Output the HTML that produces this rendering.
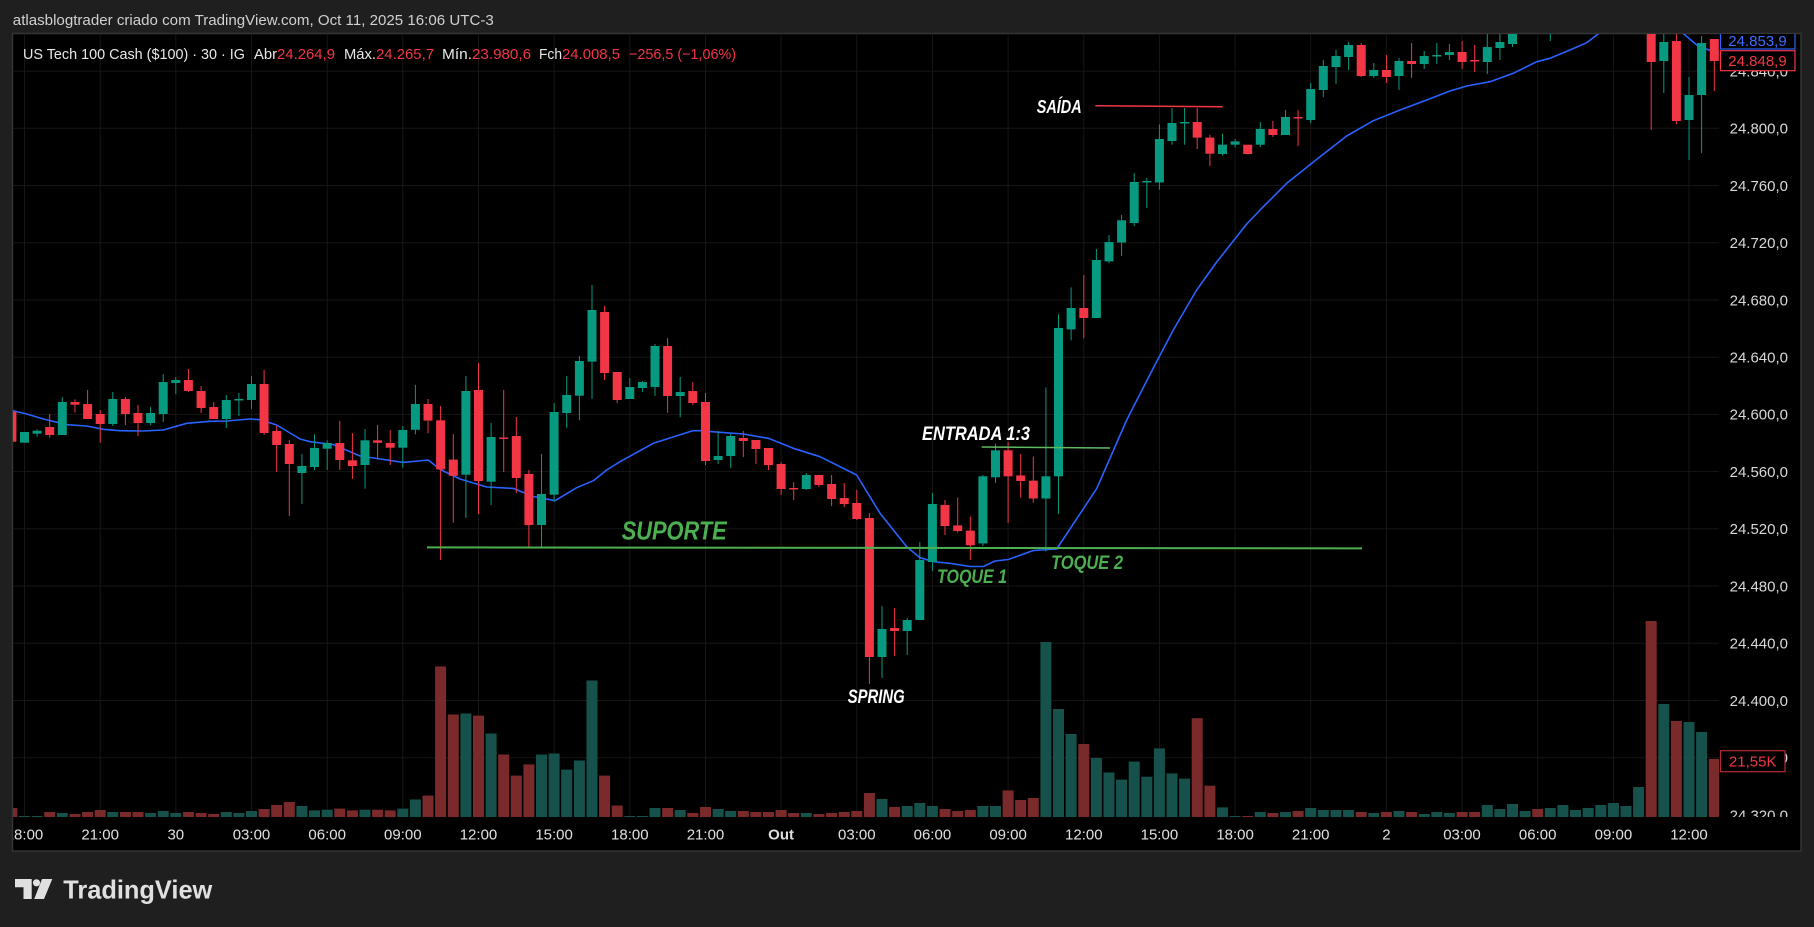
<!DOCTYPE html>
<html><head><meta charset="utf-8"><style>
html,body{margin:0;padding:0;background:#1f1f1f;}
svg{display:block;}
text{font-family:"Liberation Sans",Arial,sans-serif;}
</style></head><body>
<svg width="1814" height="927" viewBox="0 0 1814 927" xmlns="http://www.w3.org/2000/svg">
<defs>
<clipPath id="pane"><rect x="13" y="34" width="1706" height="783"/></clipPath>
<clipPath id="chart"><rect x="13" y="34" width="1788" height="817"/></clipPath>
</defs>
<rect x="0" y="0" width="1814" height="927" fill="#1f1f1f"/>
<text x="12.8" y="25" font-size="15" fill="#d0d0d0" textLength="481" lengthAdjust="spacingAndGlyphs">atlasblogtrader criado com TradingView.com, Oct 11, 2025 16:06 UTC-3</text>
<rect x="12.5" y="33.5" width="1788.5" height="817.5" fill="#000" stroke="#343434" stroke-width="1.5"/>

<g stroke="#161616" stroke-width="1">
<line x1="13" x2="1719" y1="71.1" y2="71.1"/><line x1="13" x2="1719" y1="128.3" y2="128.3"/><line x1="13" x2="1719" y1="185.5" y2="185.5"/><line x1="13" x2="1719" y1="242.7" y2="242.7"/><line x1="13" x2="1719" y1="300" y2="300"/><line x1="13" x2="1719" y1="357.2" y2="357.2"/><line x1="13" x2="1719" y1="414.4" y2="414.4"/><line x1="13" x2="1719" y1="471.6" y2="471.6"/><line x1="13" x2="1719" y1="528.8" y2="528.8"/><line x1="13" x2="1719" y1="586" y2="586"/><line x1="13" x2="1719" y1="643.3" y2="643.3"/><line x1="13" x2="1719" y1="700.5" y2="700.5"/><line x1="13" x2="1719" y1="757.7" y2="757.7"/>
<line y1="34" y2="817" x1="24.5" x2="24.5"/><line y1="34" y2="817" x1="100.2" x2="100.2"/><line y1="34" y2="817" x1="175.8" x2="175.8"/><line y1="34" y2="817" x1="251.5" x2="251.5"/><line y1="34" y2="817" x1="327.2" x2="327.2"/><line y1="34" y2="817" x1="402.8" x2="402.8"/><line y1="34" y2="817" x1="478.5" x2="478.5"/><line y1="34" y2="817" x1="554.1" x2="554.1"/><line y1="34" y2="817" x1="629.8" x2="629.8"/><line y1="34" y2="817" x1="705.5" x2="705.5"/><line y1="34" y2="817" x1="781.1" x2="781.1"/><line y1="34" y2="817" x1="856.8" x2="856.8"/><line y1="34" y2="817" x1="932.4" x2="932.4"/><line y1="34" y2="817" x1="1008.1" x2="1008.1"/><line y1="34" y2="817" x1="1083.8" x2="1083.8"/><line y1="34" y2="817" x1="1159.4" x2="1159.4"/><line y1="34" y2="817" x1="1235.1" x2="1235.1"/><line y1="34" y2="817" x1="1310.7" x2="1310.7"/><line y1="34" y2="817" x1="1386.4" x2="1386.4"/><line y1="34" y2="817" x1="1462" x2="1462"/><line y1="34" y2="817" x1="1537.7" x2="1537.7"/><line y1="34" y2="817" x1="1613.4" x2="1613.4"/><line y1="34" y2="817" x1="1689" x2="1689"/>
</g>

<g clip-path="url(#pane)">
<!-- volume green -->
<g fill="#16524b">
<rect x="19" y="816" width="11" height="1"/><rect x="31.6" y="816" width="11" height="1"/><rect x="56.8" y="813" width="11" height="4"/><rect x="107.3" y="812" width="11" height="5"/><rect x="145.1" y="813" width="11" height="4"/><rect x="157.7" y="811" width="11" height="6"/><rect x="170.3" y="813" width="11" height="4"/><rect x="220.8" y="812" width="11" height="5"/><rect x="233.4" y="813" width="11" height="4"/><rect x="246" y="811" width="11" height="6"/><rect x="296.4" y="806" width="11" height="11"/><rect x="309" y="810.4" width="11" height="6.6"/><rect x="321.7" y="809.7" width="11" height="7.3"/><rect x="359.5" y="809.7" width="11" height="7.3"/><rect x="397.3" y="808.6" width="11" height="8.4"/><rect x="409.9" y="799.5" width="11" height="17.5"/><rect x="460.4" y="713.5" width="11" height="103.5"/><rect x="485.6" y="733.5" width="11" height="83.5"/><rect x="536" y="754.5" width="11" height="62.5"/><rect x="548.6" y="753.5" width="11" height="63.5"/><rect x="561.2" y="769.6" width="11" height="47.4"/><rect x="573.9" y="760.5" width="11" height="56.5"/><rect x="586.5" y="680.5" width="11" height="136.5"/><rect x="624.3" y="816" width="11" height="1"/><rect x="636.9" y="816" width="11" height="1"/><rect x="649.5" y="808" width="11" height="9"/><rect x="674.7" y="810" width="11" height="7"/><rect x="712.6" y="809" width="11" height="8"/><rect x="725.2" y="811" width="11" height="6"/><rect x="800.8" y="813" width="11" height="4"/><rect x="876.5" y="799" width="11" height="18"/><rect x="901.7" y="806" width="11" height="11"/><rect x="914.3" y="803" width="11" height="14"/><rect x="926.9" y="806" width="11" height="11"/><rect x="977.4" y="806" width="11" height="11"/><rect x="990" y="806" width="11" height="11"/><rect x="1040.4" y="642" width="11" height="175"/><rect x="1053" y="709" width="11" height="108"/><rect x="1065.6" y="734" width="11" height="83"/><rect x="1090.9" y="758" width="11" height="59"/><rect x="1103.5" y="772.5" width="11" height="44.5"/><rect x="1116.1" y="779.6" width="11" height="37.4"/><rect x="1128.7" y="761.6" width="11" height="55.4"/><rect x="1141.3" y="776.7" width="11" height="40.3"/><rect x="1153.9" y="748.4" width="11" height="68.6"/><rect x="1166.5" y="773.4" width="11" height="43.6"/><rect x="1179.1" y="778.6" width="11" height="38.4"/><rect x="1217" y="807.4" width="11" height="9.6"/><rect x="1229.6" y="816" width="11" height="1"/><rect x="1254.8" y="812" width="11" height="5"/><rect x="1280" y="812" width="11" height="5"/><rect x="1305.2" y="808" width="11" height="9"/><rect x="1317.8" y="810" width="11" height="7"/><rect x="1330.5" y="810" width="11" height="7"/><rect x="1343.1" y="810" width="11" height="7"/><rect x="1368.3" y="813" width="11" height="4"/><rect x="1393.5" y="811" width="11" height="6"/><rect x="1418.7" y="814" width="11" height="3"/><rect x="1431.3" y="812" width="11" height="5"/><rect x="1443.9" y="813" width="11" height="4"/><rect x="1481.8" y="805" width="11" height="12"/><rect x="1494.4" y="809" width="11" height="8"/><rect x="1507" y="804" width="11" height="13"/><rect x="1519.6" y="811" width="11" height="6"/><rect x="1544.8" y="808" width="11" height="9"/><rect x="1557.4" y="805" width="11" height="12"/><rect x="1570" y="810" width="11" height="7"/><rect x="1582.7" y="808" width="11" height="9"/><rect x="1595.3" y="805" width="11" height="12"/><rect x="1607.9" y="803" width="11" height="14"/><rect x="1620.5" y="806" width="11" height="11"/><rect x="1633.1" y="787" width="11" height="30"/><rect x="1658.3" y="704" width="11" height="113"/><rect x="1683.5" y="722" width="11" height="95"/><rect x="1696.1" y="732" width="11" height="85"/>
</g>
<!-- volume red -->
<g fill="#7a2a2b">
<rect x="6.4" y="808" width="11" height="9"/><rect x="44.2" y="812" width="11" height="5"/><rect x="69.5" y="814" width="11" height="3"/><rect x="82.1" y="812" width="11" height="5"/><rect x="94.7" y="810" width="11" height="7"/><rect x="119.9" y="812" width="11" height="5"/><rect x="132.5" y="812" width="11" height="5"/><rect x="182.9" y="812" width="11" height="5"/><rect x="195.6" y="813" width="11" height="4"/><rect x="208.2" y="814" width="11" height="3"/><rect x="258.6" y="809" width="11" height="8"/><rect x="271.2" y="805" width="11" height="12"/><rect x="283.8" y="802" width="11" height="15"/><rect x="334.3" y="808.6" width="11" height="8.4"/><rect x="346.9" y="810.4" width="11" height="6.6"/><rect x="372.1" y="809.7" width="11" height="7.3"/><rect x="384.7" y="810.4" width="11" height="6.6"/><rect x="422.5" y="795.6" width="11" height="21.4"/><rect x="435.1" y="666.4" width="11" height="150.6"/><rect x="447.8" y="714.5" width="11" height="102.5"/><rect x="473" y="715.6" width="11" height="101.4"/><rect x="498.2" y="754.5" width="11" height="62.5"/><rect x="510.8" y="775.6" width="11" height="41.4"/><rect x="523.4" y="764.4" width="11" height="52.6"/><rect x="599.1" y="775.6" width="11" height="41.4"/><rect x="611.7" y="805.5" width="11" height="11.5"/><rect x="662.1" y="808" width="11" height="9"/><rect x="687.3" y="813" width="11" height="4"/><rect x="700" y="807" width="11" height="10"/><rect x="737.8" y="811" width="11" height="6"/><rect x="750.4" y="812" width="11" height="5"/><rect x="763" y="812" width="11" height="5"/><rect x="775.6" y="810" width="11" height="7"/><rect x="788.2" y="813" width="11" height="4"/><rect x="813.4" y="814" width="11" height="3"/><rect x="826.1" y="813" width="11" height="4"/><rect x="838.7" y="812" width="11" height="5"/><rect x="851.3" y="811" width="11" height="6"/><rect x="863.9" y="793" width="11" height="24"/><rect x="889.1" y="807" width="11" height="10"/><rect x="939.5" y="809" width="11" height="8"/><rect x="952.2" y="811" width="11" height="6"/><rect x="964.8" y="810" width="11" height="7"/><rect x="1002.6" y="790.4" width="11" height="26.6"/><rect x="1015.2" y="800" width="11" height="17"/><rect x="1027.8" y="798" width="11" height="19"/><rect x="1078.3" y="744" width="11" height="73"/><rect x="1191.7" y="718.2" width="11" height="98.8"/><rect x="1204.4" y="785.7" width="11" height="31.3"/><rect x="1242.2" y="816" width="11" height="1"/><rect x="1267.4" y="813" width="11" height="4"/><rect x="1292.6" y="811" width="11" height="6"/><rect x="1355.7" y="812" width="11" height="5"/><rect x="1380.9" y="812" width="11" height="5"/><rect x="1406.1" y="812" width="11" height="5"/><rect x="1456.6" y="812" width="11" height="5"/><rect x="1469.2" y="812" width="11" height="5"/><rect x="1532.2" y="809" width="11" height="8"/><rect x="1645.7" y="621" width="11" height="196"/><rect x="1670.9" y="721" width="11" height="96"/><rect x="1708.8" y="759" width="11" height="58"/>
</g>

<!-- MA -->
<polyline fill="none" stroke="#2962ff" stroke-width="1.6" stroke-linejoin="round" points="10,410 26.7,414 43.3,419 66.7,424.7 86.7,426 103.3,429.3 120,430.7 143.3,431 163.3,430 186.7,423.3 210,421.3 226.7,421 250,419 260,419.7 276.7,425 300,439 310,441.7 333.3,444.5 360,456 403.3,462.4 428.3,460 440,469.4 460,479 486.7,487 513.3,488.4 533.3,496.5 555,500.7 576.7,487.7 593.3,480.7 606.7,470 620,461.7 653.3,443.3 692.7,430.7 700,430.7 720,432.3 743.3,434 768.3,438.3 793.3,448.3 820,456.7 856.7,475 880,513.3 906.7,546.7 920,557.7 933.3,561.7 950,563.3 970,566.5 983.3,566.5 995,561 1008.3,559.5 1033.3,550.5 1056.7,549 1096.7,488.6 1126.7,420 1153.3,368 1173.3,330 1196.7,290 1216.7,262 1246.7,224 1262,208 1286.7,183.3 1320,156.7 1346.7,136 1373.3,120.7 1400,110 1426.7,100 1450,91 1466.7,86 1490,81.7 1513.3,73.3 1536.7,61.7 1550,58.3 1570,50 1586.7,42.7 1598,34 1625,18 1655,15 1675,25 1683,33.3 1696.7,45 1713,51.7 1720,53"/>

<!-- green candles -->
<g fill="#089981">
<rect x="24" y="432" width="1" height="10.7"/><rect x="36.6" y="429.3" width="1" height="7.4"/><rect x="61.8" y="397" width="1" height="38"/><rect x="112.3" y="392" width="1" height="34"/><rect x="150.1" y="407" width="1" height="18"/><rect x="162.7" y="374" width="1" height="48"/><rect x="175.3" y="377" width="1" height="17"/><rect x="225.8" y="395" width="1" height="33"/><rect x="238.4" y="393" width="1" height="23"/><rect x="251" y="376" width="1" height="33"/><rect x="301.4" y="454" width="1" height="50"/><rect x="314" y="434.3" width="1" height="35.8"/><rect x="326.7" y="440.3" width="1" height="29.7"/><rect x="364.5" y="429" width="1" height="59.7"/><rect x="402.3" y="426" width="1" height="41.7"/><rect x="414.9" y="385" width="1" height="49.3"/><rect x="465.4" y="376" width="1" height="142"/><rect x="490.6" y="423" width="1" height="82"/><rect x="541" y="454" width="1" height="92.7"/><rect x="553.6" y="403" width="1" height="98.7"/><rect x="566.2" y="376" width="1" height="51.7"/><rect x="578.9" y="356" width="1" height="64.3"/><rect x="591.5" y="285" width="1" height="114"/><rect x="629.3" y="378" width="1" height="21"/><rect x="641.9" y="381" width="1" height="11"/><rect x="654.5" y="344" width="1" height="52"/><rect x="679.7" y="377" width="1" height="40.3"/><rect x="717.6" y="431" width="1" height="33"/><rect x="730.2" y="434" width="1" height="34"/><rect x="805.8" y="473" width="1" height="17"/><rect x="881.5" y="606" width="1" height="72"/><rect x="906.7" y="618" width="1" height="37"/><rect x="919.3" y="542" width="1" height="78"/><rect x="931.9" y="493" width="1" height="78"/><rect x="982.4" y="475" width="1" height="71"/><rect x="995" y="443.7" width="1" height="39.3"/><rect x="1045.4" y="387.5" width="1" height="163.9"/><rect x="1058" y="314.3" width="1" height="199.7"/><rect x="1070.6" y="287.4" width="1" height="52.9"/><rect x="1095.9" y="249" width="1" height="69"/><rect x="1108.5" y="235" width="1" height="28.3"/><rect x="1121.1" y="215" width="1" height="41"/><rect x="1133.7" y="173" width="1" height="53"/><rect x="1146.3" y="178" width="1" height="30"/><rect x="1158.9" y="124.4" width="1" height="65.2"/><rect x="1171.5" y="108" width="1" height="36.7"/><rect x="1184.1" y="108" width="1" height="36.7"/><rect x="1222" y="133.8" width="1" height="21.8"/><rect x="1234.6" y="139" width="1" height="8.5"/><rect x="1259.8" y="122" width="1" height="25"/><rect x="1285" y="110" width="1" height="25"/><rect x="1310.2" y="83" width="1" height="40"/><rect x="1322.8" y="60" width="1" height="37"/><rect x="1335.5" y="50" width="1" height="34"/><rect x="1348.1" y="42" width="1" height="28"/><rect x="1373.3" y="63" width="1" height="15"/><rect x="1398.5" y="58" width="1" height="32"/><rect x="1423.7" y="51" width="1" height="18"/><rect x="1436.3" y="43" width="1" height="21"/><rect x="1448.9" y="44" width="1" height="16"/><rect x="1486.8" y="34" width="1" height="40"/><rect x="1499.4" y="34" width="1" height="26"/><rect x="1512" y="20" width="1" height="27"/><rect x="1549.8" y="20" width="1" height="21"/><rect x="1663.3" y="20" width="1" height="73"/><rect x="1688.5" y="77" width="1" height="83"/><rect x="1701.1" y="36" width="1" height="117"/>
<rect x="20" y="432" width="9" height="10.7"/><rect x="32.6" y="430.7" width="9" height="3"/><rect x="57.8" y="402" width="9" height="33"/><rect x="108.3" y="399" width="9" height="25"/><rect x="146.1" y="413" width="9" height="10"/><rect x="158.7" y="382" width="9" height="32"/><rect x="171.3" y="380" width="9" height="3"/><rect x="221.8" y="400" width="9" height="19"/><rect x="234.4" y="399" width="9" height="1.5"/><rect x="247" y="384" width="9" height="16"/><rect x="297.4" y="466" width="9" height="7"/><rect x="310" y="448" width="9" height="19"/><rect x="322.7" y="443" width="9" height="5.7"/><rect x="360.5" y="440.3" width="9" height="24.7"/><rect x="398.3" y="430" width="9" height="17.7"/><rect x="410.9" y="404" width="9" height="25.8"/><rect x="461.4" y="391" width="9" height="83.7"/><rect x="486.6" y="437" width="9" height="44.7"/><rect x="537" y="494" width="9" height="31"/><rect x="549.6" y="412" width="9" height="82.7"/><rect x="562.2" y="395" width="9" height="18"/><rect x="574.9" y="361" width="9" height="34.7"/><rect x="587.5" y="310" width="9" height="51.6"/><rect x="625.3" y="387" width="9" height="12"/><rect x="637.9" y="382" width="9" height="6"/><rect x="650.5" y="346" width="9" height="41"/><rect x="675.7" y="392" width="9" height="4"/><rect x="713.6" y="456" width="9" height="4"/><rect x="726.2" y="436" width="9" height="20"/><rect x="801.8" y="475" width="9" height="14"/><rect x="877.5" y="629" width="9" height="28"/><rect x="902.7" y="620" width="9" height="11"/><rect x="915.3" y="560" width="9" height="60"/><rect x="927.9" y="504" width="9" height="58"/><rect x="978.4" y="476.3" width="9" height="67.1"/><rect x="991" y="450.3" width="9" height="27"/><rect x="1041.4" y="476.3" width="9" height="22.2"/><rect x="1054" y="328" width="9" height="148.3"/><rect x="1066.6" y="308" width="9" height="21.4"/><rect x="1091.9" y="260" width="9" height="58"/><rect x="1104.5" y="242" width="9" height="19.4"/><rect x="1117.1" y="220.3" width="9" height="22.2"/><rect x="1129.7" y="182" width="9" height="41"/><rect x="1142.3" y="181" width="9" height="1.5"/><rect x="1154.9" y="139" width="9" height="43.5"/><rect x="1167.5" y="123" width="9" height="18"/><rect x="1180.1" y="122" width="9" height="1.5"/><rect x="1218" y="144.7" width="9" height="9.3"/><rect x="1230.6" y="141.4" width="9" height="3.3"/><rect x="1255.8" y="129" width="9" height="15.7"/><rect x="1281" y="117" width="9" height="18"/><rect x="1306.2" y="89" width="9" height="31"/><rect x="1318.8" y="66" width="9" height="24"/><rect x="1331.5" y="56" width="9" height="11"/><rect x="1344.1" y="45" width="9" height="12"/><rect x="1369.3" y="70" width="9" height="6"/><rect x="1394.5" y="61" width="9" height="15"/><rect x="1419.7" y="56" width="9" height="8"/><rect x="1432.3" y="55" width="9" height="1.5"/><rect x="1444.9" y="52" width="9" height="3"/><rect x="1482.8" y="47" width="9" height="15"/><rect x="1495.4" y="42" width="9" height="6"/><rect x="1508" y="20" width="9" height="24"/><rect x="1659.3" y="42" width="9" height="19"/><rect x="1684.5" y="95" width="9" height="25"/><rect x="1697.1" y="43" width="9" height="52"/>
</g>
<!-- red candles -->
<g fill="#f23645">
<rect x="11.4" y="405" width="1" height="40"/><rect x="49.2" y="414" width="1" height="23.7"/><rect x="74.5" y="399.3" width="1" height="13.4"/><rect x="87.1" y="390" width="1" height="29"/><rect x="99.7" y="410" width="1" height="32.7"/><rect x="124.9" y="397" width="1" height="28"/><rect x="137.5" y="405" width="1" height="31"/><rect x="187.9" y="369" width="1" height="23"/><rect x="200.6" y="386" width="1" height="27"/><rect x="213.2" y="402" width="1" height="17"/><rect x="263.6" y="370" width="1" height="65"/><rect x="276.2" y="426" width="1" height="46"/><rect x="288.8" y="440" width="1" height="76"/><rect x="339.3" y="421" width="1" height="49"/><rect x="351.9" y="433" width="1" height="46"/><rect x="377.1" y="425" width="1" height="34.6"/><rect x="389.7" y="430" width="1" height="35"/><rect x="427.5" y="399" width="1" height="34.3"/><rect x="440.1" y="406" width="1" height="154"/><rect x="452.8" y="434" width="1" height="88.8"/><rect x="478" y="363" width="1" height="151"/><rect x="503.2" y="390" width="1" height="82"/><rect x="515.8" y="417" width="1" height="76"/><rect x="528.4" y="470" width="1" height="76.7"/><rect x="604.1" y="306" width="1" height="74"/><rect x="616.7" y="372" width="1" height="31"/><rect x="667.1" y="338" width="1" height="74.7"/><rect x="692.3" y="382" width="1" height="23"/><rect x="705" y="393" width="1" height="72"/><rect x="742.8" y="431" width="1" height="26"/><rect x="755.4" y="440" width="1" height="24"/><rect x="768" y="448" width="1" height="22"/><rect x="780.6" y="462" width="1" height="33"/><rect x="793.2" y="482" width="1" height="18"/><rect x="818.4" y="475" width="1" height="12"/><rect x="831.1" y="475" width="1" height="31"/><rect x="843.7" y="483" width="1" height="24"/><rect x="856.3" y="490" width="1" height="30"/><rect x="868.9" y="513" width="1" height="171"/><rect x="894.1" y="608" width="1" height="48"/><rect x="944.5" y="500" width="1" height="35"/><rect x="957.2" y="497.6" width="1" height="34.9"/><rect x="969.8" y="516.5" width="1" height="43.5"/><rect x="1007.6" y="441.8" width="1" height="81.2"/><rect x="1020.2" y="454" width="1" height="43.6"/><rect x="1032.8" y="456.5" width="1" height="46.3"/><rect x="1083.3" y="275" width="1" height="63.4"/><rect x="1196.7" y="108" width="1" height="41"/><rect x="1209.4" y="134.8" width="1" height="31.2"/><rect x="1272.4" y="121" width="1" height="16"/><rect x="1297.6" y="110" width="1" height="36"/><rect x="1360.7" y="43" width="1" height="34"/><rect x="1385.9" y="55" width="1" height="28"/><rect x="1411.1" y="43" width="1" height="35"/><rect x="1461.6" y="41" width="1" height="28"/><rect x="1474.2" y="45" width="1" height="27"/><rect x="1650.7" y="20" width="1" height="110"/><rect x="1675.9" y="20" width="1" height="104"/><rect x="1713.8" y="39" width="1" height="52"/>
<rect x="7.4" y="411.7" width="9" height="30"/><rect x="45.2" y="427" width="9" height="8"/><rect x="70.5" y="402" width="9" height="2.7"/><rect x="83.1" y="404" width="9" height="15"/><rect x="95.7" y="414" width="9" height="10"/><rect x="120.9" y="399" width="9" height="15"/><rect x="133.5" y="413" width="9" height="10"/><rect x="183.9" y="380" width="9" height="11"/><rect x="196.6" y="391" width="9" height="17"/><rect x="209.2" y="407" width="9" height="12"/><rect x="259.6" y="384" width="9" height="49"/><rect x="272.2" y="431" width="9" height="14"/><rect x="284.8" y="444" width="9" height="20"/><rect x="335.3" y="443" width="9" height="17"/><rect x="347.9" y="460.3" width="9" height="5.7"/><rect x="373.1" y="440.3" width="9" height="2.5"/><rect x="385.7" y="443" width="9" height="4.7"/><rect x="423.5" y="404" width="9" height="16.6"/><rect x="436.1" y="420.3" width="9" height="49.1"/><rect x="448.8" y="459.6" width="9" height="16.2"/><rect x="474" y="390" width="9" height="91"/><rect x="499.2" y="437.5" width="9" height="1.5"/><rect x="511.8" y="436" width="9" height="42"/><rect x="524.4" y="474" width="9" height="51"/><rect x="600.1" y="312" width="9" height="61"/><rect x="612.7" y="372" width="9" height="28"/><rect x="663.1" y="346" width="9" height="50"/><rect x="688.3" y="391" width="9" height="12"/><rect x="701" y="402" width="9" height="59"/><rect x="738.8" y="438" width="9" height="3"/><rect x="751.4" y="440" width="9" height="9"/><rect x="764" y="448" width="9" height="17"/><rect x="776.6" y="464" width="9" height="25"/><rect x="789.2" y="488" width="9" height="1.5"/><rect x="814.4" y="475" width="9" height="10"/><rect x="827.1" y="484" width="9" height="15"/><rect x="839.7" y="498" width="9" height="6"/><rect x="852.3" y="503" width="9" height="16"/><rect x="864.9" y="518" width="9" height="139"/><rect x="890.1" y="628" width="9" height="3"/><rect x="940.5" y="505" width="9" height="21"/><rect x="953.2" y="525.4" width="9" height="5.6"/><rect x="965.8" y="530.6" width="9" height="14.7"/><rect x="1003.6" y="450.3" width="9" height="26"/><rect x="1016.2" y="475.4" width="9" height="5.6"/><rect x="1028.8" y="480.6" width="9" height="17.9"/><rect x="1079.3" y="308" width="9" height="10"/><rect x="1192.7" y="122" width="9" height="15.6"/><rect x="1205.4" y="137.6" width="9" height="16.1"/><rect x="1243.2" y="144.7" width="9" height="9.3"/><rect x="1268.4" y="129" width="9" height="6"/><rect x="1293.6" y="117" width="9" height="1.5"/><rect x="1356.7" y="45" width="9" height="31"/><rect x="1381.9" y="70" width="9" height="7"/><rect x="1407.1" y="61" width="9" height="3"/><rect x="1457.6" y="52" width="9" height="10"/><rect x="1470.2" y="60" width="9" height="1.5"/><rect x="1646.7" y="20" width="9" height="42"/><rect x="1671.9" y="41" width="9" height="80"/><rect x="1709.8" y="39" width="9" height="22"/>
</g>

<!-- annotations -->
<line x1="427" y1="547.4" x2="1362" y2="548.4" stroke="#4caf50" stroke-width="2"/>
<line x1="981.7" y1="447" x2="1110" y2="448" stroke="#5fba63" stroke-width="1.5"/>
<line x1="1095.3" y1="105.8" x2="1222.7" y2="106.8" stroke="#f23645" stroke-width="1.5"/>
<text x="621.7" y="539.3" font-size="26" font-weight="bold" font-style="italic" fill="#4caf50" textLength="105" lengthAdjust="spacingAndGlyphs">SUPORTE</text>
<text x="937" y="583" font-size="19" font-weight="bold" font-style="italic" fill="#4caf50" textLength="70" lengthAdjust="spacingAndGlyphs">TOQUE 1</text>
<text x="1051" y="569" font-size="19" font-weight="bold" font-style="italic" fill="#4caf50" textLength="72" lengthAdjust="spacingAndGlyphs">TOQUE 2</text>
<text x="922" y="440" font-size="19" font-weight="bold" font-style="italic" fill="#ffffff" textLength="108" lengthAdjust="spacingAndGlyphs">ENTRADA 1:3</text>
<text x="1036.7" y="113" font-size="18" font-weight="bold" font-style="italic" fill="#ffffff" textLength="45" lengthAdjust="spacingAndGlyphs">SAÍDA</text>
<text x="847.7" y="703" font-size="19" font-weight="bold" font-style="italic" fill="#ffffff" textLength="57" lengthAdjust="spacingAndGlyphs">SPRING</text>
</g>

<!-- legend -->
<g font-size="15">
<text x="23" y="59" fill="#e8e8e8" textLength="222" lengthAdjust="spacingAndGlyphs">US Tech 100 Cash ($100) · 30 · IG</text>
<text x="254" y="59" fill="#e8e8e8" textLength="23" lengthAdjust="spacingAndGlyphs">Abr</text>
<text x="277" y="59" fill="#f23645" textLength="58" lengthAdjust="spacingAndGlyphs">24.264,9</text>
<text x="344" y="59" fill="#e8e8e8" textLength="32" lengthAdjust="spacingAndGlyphs">Máx.</text>
<text x="376" y="59" fill="#f23645" textLength="58" lengthAdjust="spacingAndGlyphs">24.265,7</text>
<text x="442" y="59" fill="#e8e8e8" textLength="30" lengthAdjust="spacingAndGlyphs">Mín.</text>
<text x="472" y="59" fill="#f23645" textLength="59" lengthAdjust="spacingAndGlyphs">23.980,6</text>
<text x="539" y="59" fill="#e8e8e8" textLength="23" lengthAdjust="spacingAndGlyphs">Fch</text>
<text x="562" y="59" fill="#f23645" textLength="58" lengthAdjust="spacingAndGlyphs">24.008,5</text>
<text x="629" y="59" fill="#f23645" textLength="107" lengthAdjust="spacingAndGlyphs">−256,5 (−1,06%)</text>
</g>

<!-- price axis -->
<g clip-path="url(#chart)" font-size="15" fill="#d8d8d8" text-anchor="end">
<text x="1788" y="76.5">24.840,0</text>
<text x="1788" y="133.6">24.800,0</text>
<text x="1788" y="190.8">24.760,0</text>
<text x="1788" y="248">24.720,0</text>
<text x="1788" y="305.3">24.680,0</text>
<text x="1788" y="362.5">24.640,0</text>
<text x="1788" y="419.7">24.600,0</text>
<text x="1788" y="476.9">24.560,0</text>
<text x="1788" y="534.1">24.520,0</text>
<text x="1788" y="591.3">24.480,0</text>
<text x="1788" y="648.6">24.440,0</text>
<text x="1788" y="705.8">24.400,0</text>
<text x="1788" y="763">24.360,0</text>
</g>
<svg x="1720" y="34" width="81" height="783" overflow="hidden">
<text x="68" y="786.3" font-size="15" fill="#d8d8d8" text-anchor="end">24.320,0</text>
</svg>
<g clip-path="url(#chart)">
<rect x="1720.5" y="28" width="74.5" height="21" fill="#000" stroke="#2962ff" stroke-width="1.2"/>
<text x="1757.5" y="46" font-size="15" fill="#3d6eff" text-anchor="middle">24.853,9</text>
<rect x="1720.5" y="50.7" width="74.5" height="20" fill="#000" stroke="#f23645" stroke-width="1.2"/>
<text x="1757.5" y="66" font-size="15" fill="#f23645" text-anchor="middle">24.848,9</text>
<rect x="1720.5" y="750.7" width="64.5" height="21" fill="#000" stroke="#b32a33" stroke-width="1.2"/>
<text x="1752.7" y="766.5" font-size="15" fill="#f23645" text-anchor="middle">21,55K</text>
</g>

<!-- time axis -->
<g clip-path="url(#chart)" font-size="15" fill="#e0e0e0" text-anchor="middle">
<text x="24.5" y="839.5">18:00</text>
<text x="100.2" y="839.5">21:00</text>
<text x="175.8" y="839.5">30</text>
<text x="251.5" y="839.5">03:00</text>
<text x="327.2" y="839.5">06:00</text>
<text x="402.8" y="839.5">09:00</text>
<text x="478.5" y="839.5">12:00</text>
<text x="554.1" y="839.5">15:00</text>
<text x="629.8" y="839.5">18:00</text>
<text x="705.5" y="839.5">21:00</text>
<text x="781.1" y="839.5" font-weight="bold">Out</text>
<text x="856.8" y="839.5">03:00</text>
<text x="932.4" y="839.5">06:00</text>
<text x="1008.1" y="839.5">09:00</text>
<text x="1083.8" y="839.5">12:00</text>
<text x="1159.4" y="839.5">15:00</text>
<text x="1235.1" y="839.5">18:00</text>
<text x="1310.7" y="839.5">21:00</text>
<text x="1386.4" y="839.5">2</text>
<text x="1462" y="839.5">03:00</text>
<text x="1537.7" y="839.5">06:00</text>
<text x="1613.4" y="839.5">09:00</text>
<text x="1689" y="839.5">12:00</text>
</g>

<!-- TradingView logo -->
<g fill="#e0e0e0">
<polygon points="15,879 31.7,879 31.7,899 23.5,899 23.5,887.3 15,887.3"/>
<circle cx="36.5" cy="882.8" r="3.6"/>
<polygon points="42,879 52.3,879 44,899 34.2,899"/>
<text x="63.3" y="898.7" font-size="26" font-weight="bold" textLength="149" lengthAdjust="spacingAndGlyphs">TradingView</text>
</g>
</svg>
</body></html>
